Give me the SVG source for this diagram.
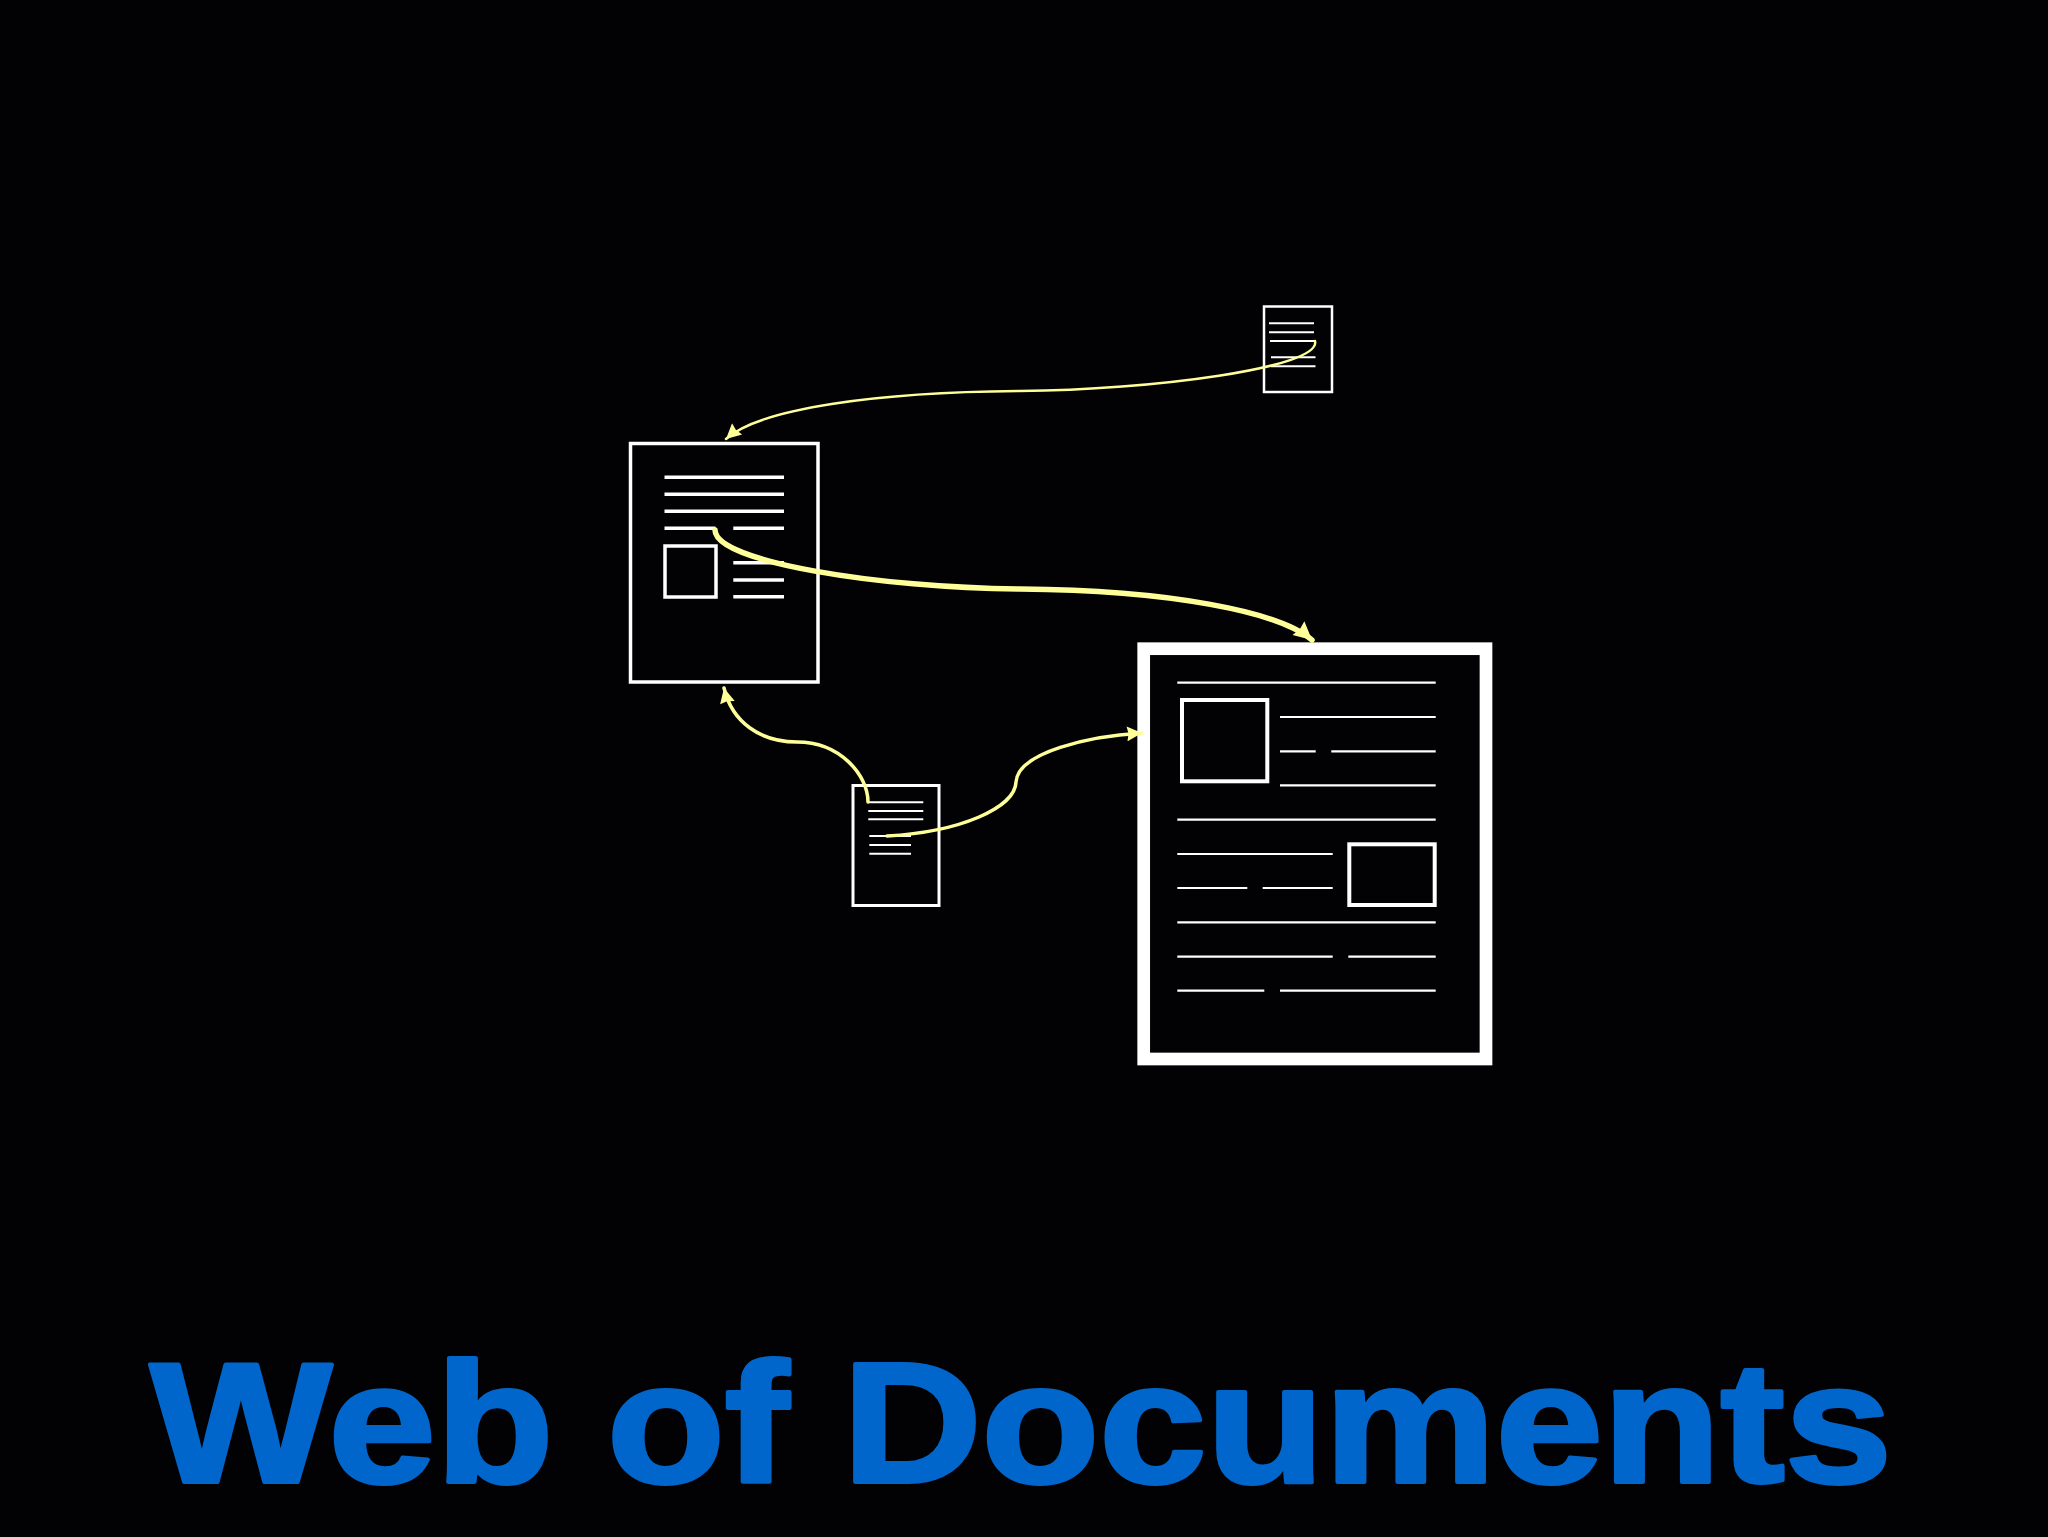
<svg xmlns="http://www.w3.org/2000/svg" width="2048" height="1537" viewBox="0 0 2048 1537">
<style>
.doc{fill:none;stroke:#ffffff}
.ln{stroke:#ffffff;fill:none}
.link{fill:none;stroke:#ffff99;stroke-linecap:round}
.title{font-family:"Liberation Sans",Arial,sans-serif;font-weight:bold;fill:#0066cc;stroke:#0066cc;stroke-width:4;stroke-linejoin:round}
</style>
<defs>
<marker id="ahS" viewBox="0 0 10 10" refX="10" refY="5" markerUnits="userSpaceOnUse" markerWidth="19" markerHeight="15" orient="auto"><path d="M0,0 L10,5 L0,10 L1,5 z" fill="#ffff99"/></marker>
<marker id="ahM" viewBox="0 0 10 10" refX="10" refY="5" markerUnits="userSpaceOnUse" markerWidth="19" markerHeight="15" orient="auto"><path d="M0,0 L10,5 L0,10 L1,5 z" fill="#ffff99"/></marker>
<marker id="ahL" viewBox="0 0 10 10" refX="10" refY="5" markerUnits="userSpaceOnUse" markerWidth="23" markerHeight="18" orient="auto"><path d="M0,0 L10,5 L0,10 L1,5 z" fill="#ffff99"/></marker>
</defs>
<rect width="2048" height="1537" fill="#020104"/>

<g id="doc-small-top">
<rect class="doc" x="1264" y="306.5" width="68" height="85.5" stroke-width="2.5"/>
<g class="ln" stroke-width="2">
<line x1="1269" y1="323.3" x2="1314" y2="323.3"/>
<line x1="1269" y1="332.3" x2="1314" y2="332.3"/>
<line x1="1270" y1="341" x2="1315" y2="341"/>
<line x1="1271" y1="357.3" x2="1315.5" y2="357.3"/>
<line x1="1271" y1="366.3" x2="1315.5" y2="366.3"/>
</g>
</g>

<g id="doc-left">
<rect class="doc" x="630.5" y="443.5" width="187.5" height="238.5" stroke-width="3.5"/>
<g class="ln" stroke-width="3.5">
<line x1="664.5" y1="477.3" x2="784" y2="477.3"/>
<line x1="664.5" y1="494.3" x2="784" y2="494.3"/>
<line x1="664.5" y1="511.3" x2="784" y2="511.3"/>
<line x1="664.5" y1="528.3" x2="715.5" y2="528.3"/>
<line x1="733.3" y1="528.3" x2="784" y2="528.3"/>
<line x1="733.3" y1="562.7" x2="784" y2="562.7"/>
<line x1="733.3" y1="580" x2="784" y2="580"/>
<line x1="733.3" y1="596.7" x2="784" y2="596.7"/>
</g>
<rect class="doc" x="665" y="546" width="51" height="51" stroke-width="3.5"/>
</g>

<g id="doc-small-bottom">
<rect class="doc" x="853" y="785.5" width="86" height="120" stroke-width="3"/>
<g class="ln" stroke-width="2">
<line x1="868.3" y1="802.3" x2="923.3" y2="802.3"/>
<line x1="868.3" y1="811" x2="923.3" y2="811"/>
<line x1="868.3" y1="819.3" x2="923.3" y2="819.3"/>
<line x1="869.3" y1="836" x2="911" y2="836"/>
<line x1="869.3" y1="845" x2="911" y2="845"/>
<line x1="869.3" y1="853.7" x2="911" y2="853.7"/>
</g>
</g>

<g id="doc-big">
<rect class="doc" x="1143.7" y="648.7" width="342.3" height="410.3" stroke-width="12.7"/>
<g class="ln" stroke-width="2.2">
<line x1="1177.3" y1="682.7" x2="1435.7" y2="682.7"/>
<line x1="1280" y1="717" x2="1435.7" y2="717"/>
<line x1="1280" y1="751.3" x2="1315.7" y2="751.3"/>
<line x1="1331.3" y1="751.3" x2="1435.7" y2="751.3"/>
<line x1="1280" y1="785.3" x2="1435.7" y2="785.3"/>
<line x1="1177.3" y1="819.7" x2="1435.7" y2="819.7"/>
<line x1="1177.3" y1="854" x2="1332.7" y2="854"/>
<line x1="1177.3" y1="888" x2="1247.3" y2="888"/>
<line x1="1262.7" y1="888" x2="1332.7" y2="888"/>
<line x1="1177.3" y1="922.3" x2="1435.7" y2="922.3"/>
<line x1="1177.3" y1="956.7" x2="1332.7" y2="956.7"/>
<line x1="1348.3" y1="956.7" x2="1435.7" y2="956.7"/>
<line x1="1177.3" y1="990.7" x2="1264.3" y2="990.7"/>
<line x1="1280" y1="990.7" x2="1435.7" y2="990.7"/>
</g>
<rect class="doc" x="1182" y="700" width="85.3" height="81.3" stroke-width="4"/>
<rect class="doc" x="1349.3" y="844.3" width="85.4" height="60.7" stroke-width="4"/>
</g>

<g id="connectors">
<path class="link" stroke-width="2.5" d="M1315,341 C1322,368 1150,390 1020,391 C880,392 760,408 726,439" marker-end="url(#ahS)"/>
<path class="link" stroke-width="5.5" d="M715,530 C715,562 880,588 1020,589 C1170,590 1280,612 1312,640" marker-end="url(#ahL)"/>
<path class="link" stroke-width="3.5" d="M868,802 C868,775 840,742 797,742 C760,742 732,722 724,688" marker-end="url(#ahM)"/>
<path class="link" stroke-width="3.5" d="M887,836 C960,832 1015,808 1016,782 C1018,752 1090,736 1142,733" marker-end="url(#ahM)"/>
</g>

<text class="title" x="150" y="1482" font-size="170" textLength="1742" lengthAdjust="spacingAndGlyphs">Web of Documents</text>
</svg>
